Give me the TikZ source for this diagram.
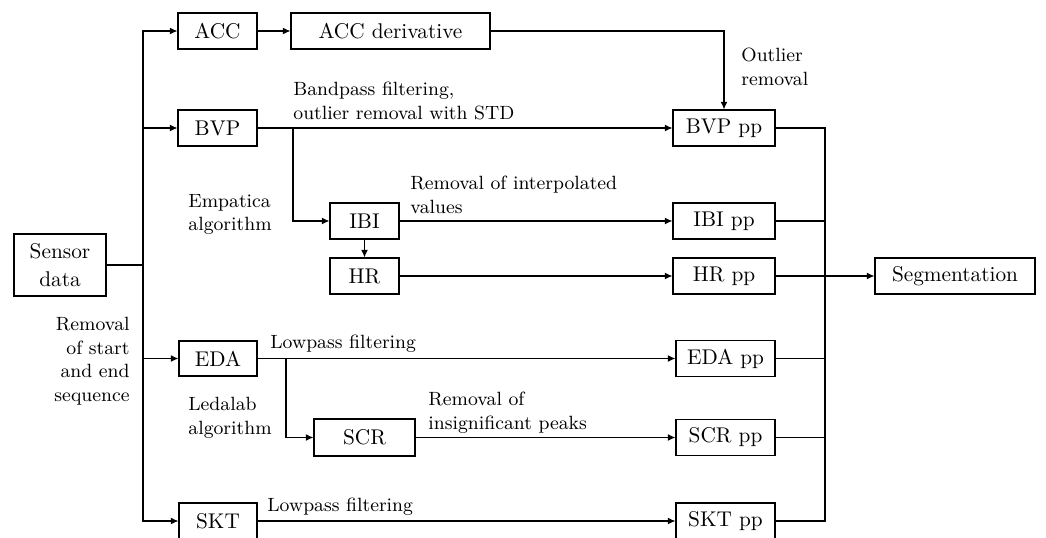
\documentclass[tikz,border=0pt]{standalone}
\usetikzlibrary{arrows.meta}
\newdimen\pxu \pxu=0.46948pt
\begin{document}
\begin{tikzpicture}[x=0.46948pt,y=-0.46948pt,
  box/.style={draw, line width=0.5pt, inner sep=0pt, font=\normalsize},
  lbl/.style={inner sep=0pt, font=\small, align=left},
  lblr/.style={inner sep=0pt, font=\small, align=right},
  arr/.style={line width=0.5pt,-{Latex[length=3.6pt,width=3.2pt]}},
  ln/.style={line width=0.5pt}]
\useasboundingbox (0,0) rectangle (1046,537);

% boxes
\node[box, minimum width=92\pxu, minimum height=62\pxu, align=center] (sensor) at (60,265) {Sensor\\[1pt] data};
\node[box, minimum width=79\pxu, minimum height=36\pxu] (acc) at (217.5,31) {ACC};
\node[box, minimum width=199\pxu, minimum height=36\pxu] (accd) at (390.5,31) {ACC derivative};
\node[box, minimum width=79\pxu, minimum height=36\pxu] (bvp) at (217.5,128) {BVP};
\node[box, minimum width=102\pxu, minimum height=36\pxu] (bvppp) at (724,128) {BVP pp};
\node[box, minimum width=69\pxu, minimum height=36\pxu] (ibi) at (364.5,221) {IBI};
\node[box, minimum width=69\pxu, minimum height=36\pxu] (hr) at (364.5,276) {HR};
\node[box, minimum width=102\pxu, minimum height=36\pxu] (ibipp) at (724,221) {IBI pp};
\node[box, minimum width=102\pxu, minimum height=36\pxu] (hrpp) at (724,276) {HR pp};
\node[box, minimum width=160\pxu, minimum height=36\pxu] (seg) at (955,276) {Segmentation};
\node[box, minimum width=78\pxu, minimum height=35\pxu] (eda) at (218,358.5) {EDA};
\node[box, minimum width=99\pxu, minimum height=36\pxu] (edapp) at (725.5,358.5) {EDA pp};
\node[box, minimum width=101\pxu, minimum height=37\pxu] (scr) at (364.5,437.5) {SCR};
\node[box, minimum width=99\pxu, minimum height=36\pxu] (scrpp) at (725.5,437.5) {SCR pp};
\node[box, minimum width=78\pxu, minimum height=36\pxu] (skt) at (218,521) {SKT};
\node[box, minimum width=99\pxu, minimum height=36\pxu] (sktpp) at (725.5,521) {SKT pp};

% labels
\node[lbl, anchor=north west] (l1) at (293,82) {Bandpass filtering,\\outlier removal with STD};
\node[lbl, anchor=north west] (l2) at (741,48) {Outlier\\removal};
\node[lbl, anchor=north west] (l3) at (188,194) {Empatica\\algorithm};
\node[lbl, anchor=north west] (l4) at (410,176) {Removal of interpolated\\values};
\node[lblr, anchor=north east] (l5) at (130,317) {Removal\\of start\\and end\\sequence};
\node[lbl, anchor=north west] (l6) at (270,335) {Lowpass filtering};
\node[lbl, anchor=north west] (l7) at (188,397) {Ledalab\\algorithm};
\node[lbl, anchor=north west] (l8) at (428,392) {Removal of\\insignificant peaks};
\node[lbl, anchor=north west] (l9) at (267,498) {Lowpass filtering};

% junctions
\coordinate (trunk) at (143,265);
\coordinate (b1) at (293,128);
\coordinate (e1) at (286,358.5);
\coordinate (col) at (825,276);

% connectors
\draw[arr] (sensor) -- (trunk) |- (acc);
\draw[arr] (sensor) -- (trunk) |- (bvp);
\draw[arr] (sensor) -- (trunk) |- (eda);
\draw[arr] (sensor) -- (trunk) |- (skt);
\draw[arr] (acc) -- (accd);
\draw[arr] (accd) -| (bvppp);
\draw[arr] (bvp) -- (bvppp);
\draw[arr] (b1) |- (ibi);
\draw[arr] (ibi) -- (ibipp);
\draw[arr] (ibi) -- (hr);
\draw[arr] (hr) -- (hrpp);
\draw[arr] (eda) -- (edapp);
\draw[arr] (e1) |- (scr);
\draw[arr] (scr) -- (scrpp);
\draw[arr] (skt) -- (sktpp);
\draw[ln] (bvppp) -| (col);
\draw[ln] (ibipp) -| (col);
\draw[ln] (hrpp) -- (col);
\draw[ln] (edapp) -| (col);
\draw[ln] (scrpp) -| (col);
\draw[ln] (sktpp) -| (col);
\draw[arr] (col) -- (seg);
\end{tikzpicture}
\end{document}
